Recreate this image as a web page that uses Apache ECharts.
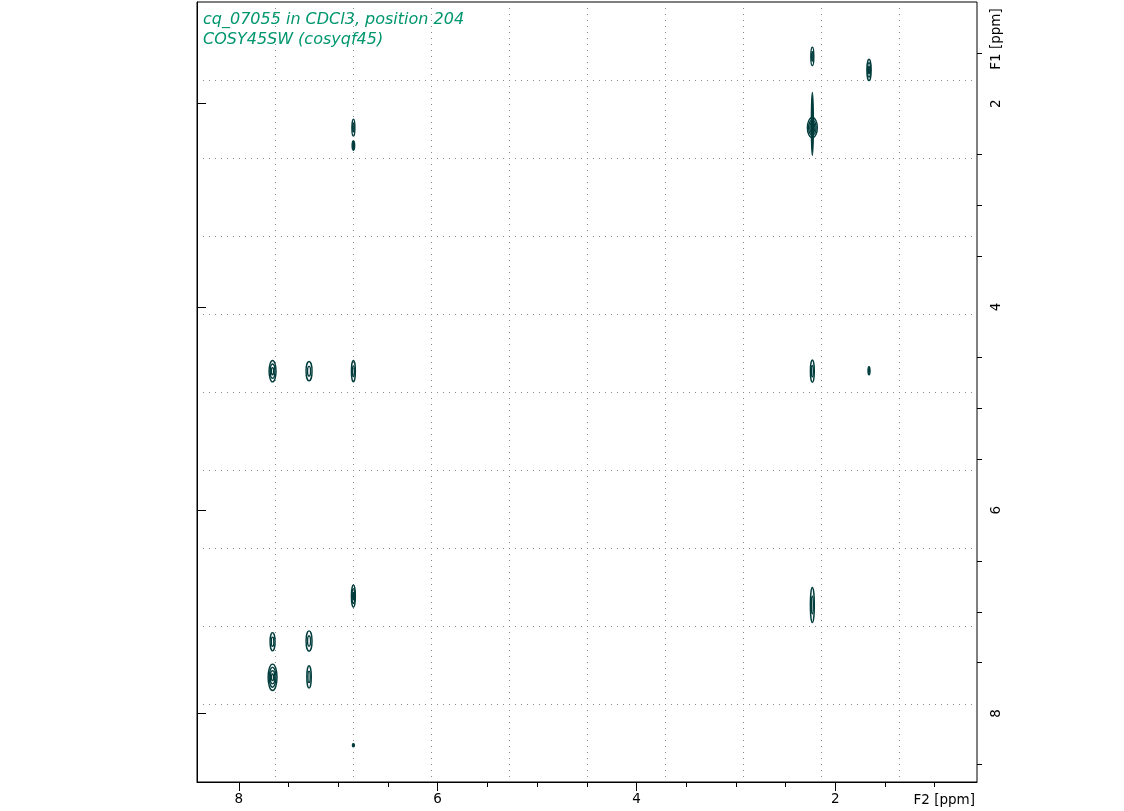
<!DOCTYPE html>
<html>
<head>
<meta charset="utf-8">
<script src="https://cdn.jsdelivr.net/npm/echarts@6/dist/echarts.min.js"></script>
<style>
html,body{margin:0;padding:0;background:#fff;}
#chart{width:1124px;height:811px;}
</style>
</head>
<body>
<div id="chart"></div>
<script>
// ---- data (ppm) ----
const titleLines = ['cq_07055 in CDCl3, position 204', 'COSY45SW (cosyqf45)'];
const f2Label = 'F2 [ppm]';
const f1Label = 'F1 [ppm]';
const f2Range = [0.575, 8.42];
const f1Range = [1.0, 8.674];
const majorTicks = [2, 4, 6, 8];
const f2MinorTicks = [1, 1.5, 2.5, 3, 3.5, 4.5, 5, 5.5, 6.5, 7, 7.5];
const f1MinorTicks = [1.5, 2.5, 3, 3.5, 4.5, 5, 5.5, 6.5, 7, 7.5, 8.5];
// cross peaks: centre F2, centre F1, extent F2, extent F1 (ppm), contour levels
const peakF2     = [2.231, 1.661, 2.231, 2.231, 6.847, 6.847, 7.660, 7.293, 6.847, 2.231, 1.661, 6.847, 2.231, 7.660, 7.293, 7.660, 7.293, 6.847];
const peakF1     = [1.535, 1.668, 2.199, 2.236, 2.236, 2.413, 4.632, 4.632, 4.632, 4.632, 4.628, 6.845, 6.933, 7.294, 7.287, 7.644, 7.640, 8.313];
const peakWidth2 = [0.030, 0.043, 0.020, 0.100, 0.030, 0.025, 0.070, 0.060, 0.040, 0.040, 0.020, 0.040, 0.040, 0.050, 0.060, 0.090, 0.045, 0.020];
const peakWidth1 = [0.180, 0.210, 0.620, 0.200, 0.167, 0.090, 0.210, 0.190, 0.210, 0.220, 0.080, 0.220, 0.345, 0.180, 0.200, 0.260, 0.220, 0.030];
const peakLevels = [2, 3, 1, 4, 2, 1, 3, 2, 2, 2, 1, 3, 2, 2, 2, 4, 2, 1];

const peakData = peakF2.map((x, i) => [x, peakF1[i], peakWidth2[i], peakWidth1[i], peakLevels[i]]);

const contourColor = '#003c3c';
const FONT = 'DejaVu Sans';

const chart = echarts.init(document.getElementById('chart'), null, {renderer: 'canvas'});

const hiddenAxisBase = {
  min: 0, max: 10, interval: 1, type: 'value',
  axisLine: {show: false}, axisTick: {show: false}, axisLabel: {show: false},
  splitLine: {show: true, showMinLine: false, showMaxLine: false,
    lineStyle: {color: '#888888', width: 1, type: [1, 5]}}
};

chart.setOption({
  animation: false,
  backgroundColor: '#ffffff',
  title: {
    text: titleLines.join('\n'),
    left: 198, top: 5,
    textStyle: {color: '#00966e', fontFamily: FONT, fontSize: 16, fontStyle: 'italic', fontWeight: 'normal', lineHeight: 20}
  },
  grid: {left: 197, top: 2, width: 780, height: 780, show: true, borderColor: '#000', borderWidth: 1, backgroundColor: 'transparent', containLabel: false},
  xAxis: [
    {
      type: 'value', min: f2Range[0], max: f2Range[1], inverse: true, position: 'bottom', offset: 0,
      axisLine: {show: true, lineStyle: {color: '#000', width: 1}},
      axisTick: {show: true, customValues: majorTicks, length: 9, lineStyle: {color: '#000', width: 1}},
      axisLabel: {show: true, customValues: majorTicks, margin: 10, color: '#000', fontFamily: FONT, fontSize: 13.5},
      splitLine: {show: false}
    },
    {
      type: 'value', min: f2Range[0], max: f2Range[1], inverse: true, position: 'bottom', offset: 0,
      axisLine: {show: false},
      axisTick: {show: true, customValues: f2MinorTicks, length: 5, lineStyle: {color: '#000', width: 1}},
      axisLabel: {show: false},
      splitLine: {show: false}
    },
    Object.assign({position: 'top'}, hiddenAxisBase)
  ],
  yAxis: [
    {
      type: 'value', min: f1Range[0], max: f1Range[1], inverse: true, position: 'right', offset: 0,
      axisLine: {show: true, lineStyle: {color: '#000', width: 1}},
      axisTick: {show: true, customValues: majorTicks, length: 9, lineStyle: {color: '#000', width: 1}},
      axisLabel: {show: true, customValues: majorTicks, rotate: 90, margin: 12, color: '#000', fontFamily: FONT, fontSize: 13.5},
      splitLine: {show: false}
    },
    {
      type: 'value', min: f1Range[0], max: f1Range[1], inverse: true, position: 'right', offset: 0,
      axisLine: {show: false},
      axisTick: {show: true, customValues: f1MinorTicks, length: 5, lineStyle: {color: '#000', width: 1}},
      axisLabel: {show: false},
      splitLine: {show: false}
    },
    Object.assign({position: 'left'}, hiddenAxisBase)
  ],
  graphic: [
    {type: 'text', x: 975, y: 800, style: {text: f2Label, fill: '#000', font: '13.5px "DejaVu Sans"', align: 'right', verticalAlign: 'middle'}},
    {type: 'text', x: 996, y: 39, rotation: Math.PI / 2, style: {text: f1Label, fill: '#000', font: '13.5px "DejaVu Sans"', align: 'center', verticalAlign: 'middle'}}
  ],
  series: [{
    type: 'custom',
    xAxisIndex: 0, yAxisIndex: 0,
    clip: true,
    data: peakData,
    encode: {x: 0, y: 1},
    renderItem: function (params, api) {
      const c = api.coord([api.value(0), api.value(1)]);
      const s = api.size([api.value(2), api.value(3)]);
      const n = api.value(4);
      const children = [];
      for (let i = 0; i < n; i++) {
        const f = 1 - i / n;
        children.push({
          type: 'ellipse',
          shape: {cx: c[0], cy: c[1], rx: Math.max(s[0] / 2 * f, 0.6), ry: Math.max(s[1] / 2 * f, 0.8)},
          style: {fill: n === 1 ? contourColor : 'none', stroke: contourColor, lineWidth: 1.4}
        });
      }
      return {type: 'group', children: children};
    }
  }]
});
</script>
</body>
</html>
